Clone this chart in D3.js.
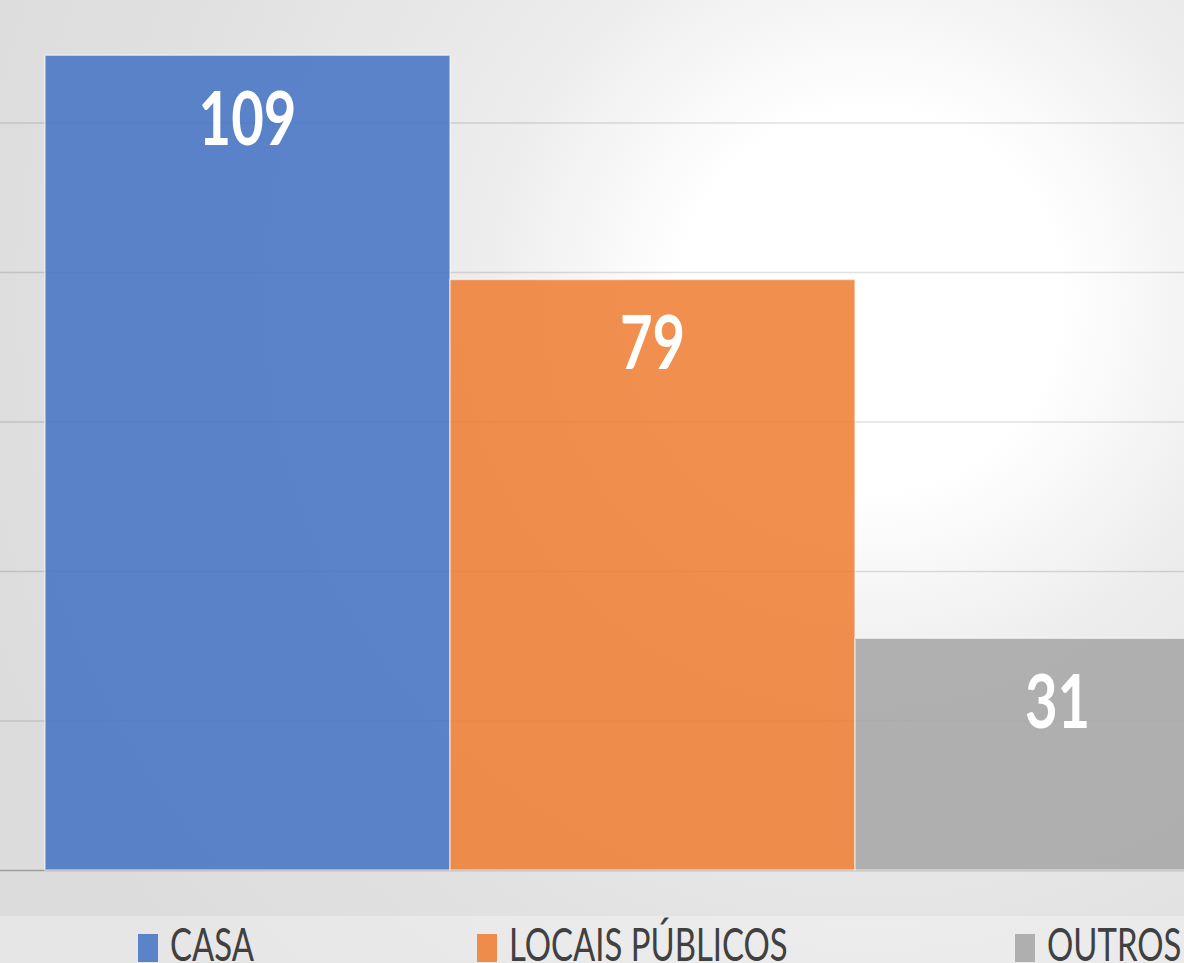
<!DOCTYPE html>
<html>
<head>
<meta charset="utf-8">
<script src="https://cdn.jsdelivr.net/npm/d3@7"></script>
<style>
html,body{margin:0;padding:0;overflow:hidden;background:#fff;}
svg{display:block;}
</style>
</head>
<body>
<svg id="chart" width="1184" height="963"></svg>
<script>
// ---- data ----
const categories = ["CASA", "LOCAIS PÚBLICOS", "OUTROS"];
const values = [109, 79, 31];
const colors = ["#4472C4", "#ED7D31", "#A5A5A5"];
const tickValues = [0, 20, 40, 60, 80, 100, 120];

// ---- layout ----
const W = 1184, H = 963;
const baseY = 870;
const pxPerUnit = 7.475;
const svg = d3.select("#chart");

// background
const defs = svg.append("defs");
const rg = defs.append("radialGradient").attr("id", "bg")
  .attr("gradientUnits", "userSpaceOnUse")
  .attr("cx", 870).attr("cy", 300).attr("r", 950);
[[0, "#ffffff"], [0.2, "#ffffff"], [0.42, "#ececec"], [0.75, "#e1e1e1"], [1, "#dcdcdc"]]
  .forEach(([o, c]) => rg.append("stop").attr("offset", o).attr("stop-color", c));
svg.append("rect").attr("width", W).attr("height", H).attr("fill", "url(#bg)");
svg.append("rect").attr("x", 0).attr("y", 916).attr("width", W).attr("height", 47)
  .attr("fill", "#ffffff").attr("opacity", 0.3);

// scales
const y = d3.scaleLinear().domain([0, 120]).range([baseY, baseY - 120 * pxPerUnit]);
const x = d3.scaleBand().domain(categories).range([45, 45 + 3 * 405]).padding(0);

// gridlines
const grid = svg.append("g").attr("transform", "translate(1400,0)")
  .call(d3.axisLeft(y).tickValues(tickValues).tickSize(1400).tickFormat(""));
grid.select(".domain").remove();
grid.selectAll(".tick line")
  .attr("stroke", d => d === 0 ? "rgba(0,0,0,0.28)" : "rgba(0,0,0,0.12)")
  .attr("stroke-width", 1.3);

// bars
svg.append("g").selectAll("rect").data(categories).join("rect")
  .attr("x", d => x(d))
  .attr("y", (d, i) => y(values[i]))
  .attr("width", x.bandwidth())
  .attr("height", (d, i) => y(0) - y(values[i]))
  .attr("fill", (d, i) => colors[i])
  .attr("fill-opacity", 0.86)
  .attr("stroke", "rgba(255,255,255,0.55)")
  .attr("stroke-width", 1.5);

// value labels
svg.append("g").selectAll("text").data(categories).join("text")
  .attr("transform", (d, i) => `translate(${x(d) + x.bandwidth() / 2},${y(values[i]) + 90}) scale(0.76,1)`)
  .attr("text-anchor", "middle")
  .attr("font-family", "Lato, 'Open Sans', sans-serif")
  .attr("font-weight", "bold")
  .attr("font-size", 74)
  .attr("fill", "#ffffff")
  .text((d, i) => values[i]);

// legend
const legendX = [138, 477, 1015];
const lg = svg.append("g").selectAll("g").data(categories).join("g")
  .attr("transform", (d, i) => `translate(${legendX[i]},0)`);
lg.append("rect")
  .attr("x", 0).attr("y", 934).attr("width", 20).attr("height", 28)
  .attr("fill", (d, i) => colors[i]).attr("fill-opacity", 0.86);
lg.append("text")
  .attr("transform", "translate(32,961) scale(0.715,1)")
  .attr("font-family", "Lato, 'Open Sans', sans-serif")
  .attr("font-size", 46)
  .attr("fill", "#404040")
  .text(d => d);
</script>
</body>
</html>
